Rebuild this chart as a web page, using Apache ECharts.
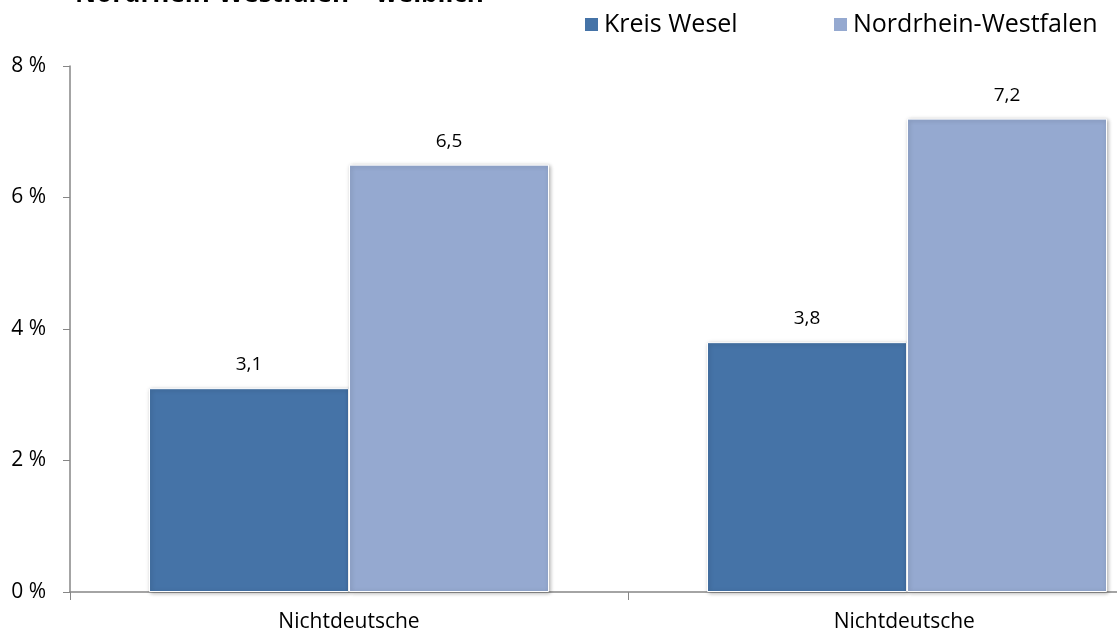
<!DOCTYPE html>
<html>
<head>
<meta charset="utf-8">
<script src="https://cdn.jsdelivr.net/npm/echarts@6/dist/echarts.min.js"></script>
<style>html,body{margin:0;padding:0;background:#fff}#c{width:1117px;height:637px}</style>
</head>
<body>
<div id="c"></div>
<script>
const titleText = 'Nordrhein-Westfalen – weiblich';
const categories = ['Nichtdeutsche', 'Nichtdeutsche '];
const kreisWesel = [3.1, 3.8];
const nrw = [6.5, 7.2];
const seriesNames = ['Kreis Wesel', 'Nordrhein-Westfalen'];
const yTicks = [0, 2, 4, 6, 8];

const FONT = 'Open Sans';
const chart = echarts.init(document.getElementById('c'), null, {renderer: 'canvas'});
const lbl = {
  show: true, position: 'top', distance: 14, color: '#000', fontFamily: FONT, fontSize: 19,
  formatter: p => String(p.value).replace('.', ',')
};
const legendText = {fontSize: 25, color: '#000', fontFamily: FONT};
chart.setOption({
  animation: false,
  textStyle: {fontFamily: FONT},
  graphic: [{
    type: 'text', x: 75, y: 8,
    style: {text: titleText, font: 'bold 26px "Open Sans"', fill: '#000', verticalAlign: 'bottom'}
  }],
  legend: [{
    data: [seriesNames[0]], left: 583, top: 12, padding: 0, icon: 'rect', itemWidth: 15, itemHeight: 15,
    textStyle: legendText
  }, {
    data: [seriesNames[1]], left: 832, top: 12, padding: 0, icon: 'rect', itemWidth: 15, itemHeight: 15,
    textStyle: legendText
  }],
  grid: {left: 70, top: 66, width: 1116, height: 526, outerBoundsMode: 'none', containLabel: false},
  xAxis: {
    type: 'category', data: categories,
    axisLine: {lineStyle: {color: '#868686', width: 1.5}},
    axisTick: {show: true, length: 8, lineStyle: {color: '#868686'}},
    axisLabel: {color: '#000', fontSize: 21, margin: 20, fontFamily: FONT}
  },
  yAxis: {
    type: 'value', min: 0, max: 8, interval: 2,
    axisLine: {show: true, lineStyle: {color: '#868686', width: 1.5}},
    axisTick: {show: true, length: 7, lineStyle: {color: '#868686'}},
    splitLine: {show: false},
    axisLabel: {color: '#000', fontSize: 21, margin: 24, formatter: v => yTicks.includes(v) ? v + ' %' : '', fontFamily: FONT}
  },
  series: [{
    name: seriesNames[0], type: 'bar', data: kreisWesel, barWidth: 200, barGap: '0%',
    itemStyle: {color: '#4573A7', borderColor: '#fff', borderWidth: 1, shadowColor: 'rgba(0,0,0,0.3)', shadowBlur: 4, shadowOffsetX: 1, shadowOffsetY: 1},
    label: lbl
  }, {
    name: seriesNames[1], type: 'bar', data: nrw, barWidth: 200,
    itemStyle: {color: '#95A9D0', borderColor: '#fff', borderWidth: 1, shadowColor: 'rgba(0,0,0,0.3)', shadowBlur: 4, shadowOffsetX: 1, shadowOffsetY: 1},
    label: lbl
  }]
});
</script>
</body>
</html>
